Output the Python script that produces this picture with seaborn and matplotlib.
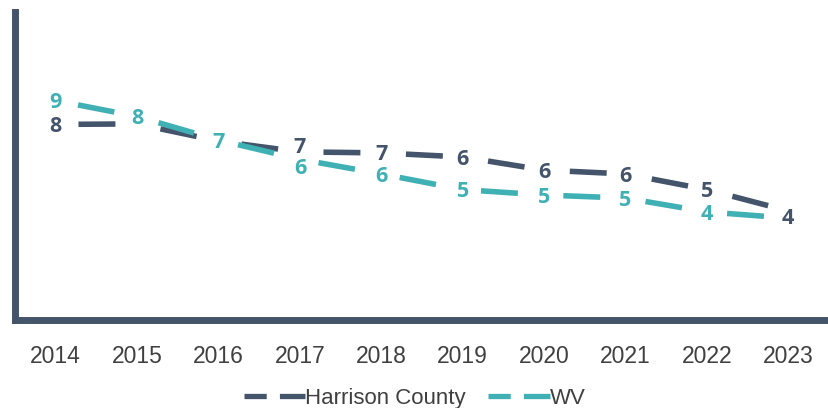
import matplotlib
matplotlib.use("Agg")
import matplotlib.pyplot as plt
import seaborn as sns
import pandas as pd

years = ["2014", "2015", "2016", "2017", "2018", "2019", "2020", "2021", "2022", "2023"]
harrison = [7.62, 7.64, 6.97, 6.55, 6.51, 6.35, 5.84, 5.69, 5.08, 4.25]
wv = [8.55, 7.93, 7.01, 6.26, 5.69, 5.08, 4.87, 4.75, 4.21, 3.97]
series_names = ["Harrison County", "WV"]

# labels that sit behind the other series' label in the reference (not shown)
hidden_labels = {"Harrison County": {"2015", "2016"}, "WV": {"2023"}}
# small vertical nudges of data labels (points, + = up)
label_nudge = {("Harrison County", "2017"): 5, ("WV", "2017"): -5,
               ("Harrison County", "2023"): -4}

dark = "#44546A"
teal = "#3FB0B4"
text_gray = "#404040"

sns.set_theme(style="white")
plt.rcParams["lines.scale_dashes"] = False
plt.rcParams["font.family"] = ["Liberation Sans", "DejaVu Sans"]

df = pd.DataFrame({
    "idx": list(range(len(years))) * 2,
    "value": harrison + wv,
    "series": [series_names[0]] * len(years) + [series_names[1]] * len(years),
})

fig = plt.figure(figsize=(8.29, 4.08), dpi=100)
ax = fig.add_axes([15 / 829, 88 / 408, 814 / 829, 308 / 408])

sns.lineplot(data=df, x="idx", y="value", hue="series",
             palette={series_names[0]: dark, series_names[1]: teal},
             legend=False, ax=ax, sort=False)

for line in ax.lines:
    line.set_linewidth(4.0)
    line.set_linestyle((43.0, (26.6, 32.8)))
    line.set_dash_capstyle("butt")
    line.set_solid_capstyle("butt")

ax.set_xlim(-0.5, len(years) - 0.5)
ax.set_ylim(0, 12)
ax.set_xticks(range(len(years)))
ax.set_xticklabels(years, fontsize=16.5, color=text_gray, family=["Liberation Sans", "DejaVu Sans"])
ax.set_yticks([])
ax.set_xlabel("")
ax.set_ylabel("")
ax.tick_params(axis="x", length=0, pad=18)

for side in ["top", "right"]:
    ax.spines[side].set_visible(False)
for side in ["left", "bottom"]:
    ax.spines[side].set_color(dark)
    ax.spines[side].set_linewidth(5)

for name, vals, col in [(series_names[0], harrison, dark), (series_names[1], wv, teal)]:
    for i, v in enumerate(vals):
        if years[i] in hidden_labels[name]:
            continue
        dy = label_nudge.get((name, years[i]), 0) - 1.5
        ax.annotate(f"{v:.0f}", xy=(i, v), xytext=(0, dy), textcoords="offset points",
                    ha="center", va="center", color=col,
                    fontsize=15.5, fontweight="bold", family=["Open Sans", "DejaVu Sans"],
                    zorder=5)

leg = fig.legend(handles=ax.lines[:2], labels=series_names, loc="center",
                 bbox_to_anchor=(0.5, 0.024), ncol=2, frameon=False,
                 handlelength=2.77, handletextpad=0.0, columnspacing=1.0,
                 prop={"family": ["Liberation Sans", "DejaVu Sans"], "size": 16})
for t in leg.get_texts():
    t.set_color(text_gray)
for l in leg.get_lines():
    l.set_linestyle((0, (16, 9.5, 19.5, 100)))
    l.set_linewidth(3.8)

fig.savefig("out.png", dpi=100)
